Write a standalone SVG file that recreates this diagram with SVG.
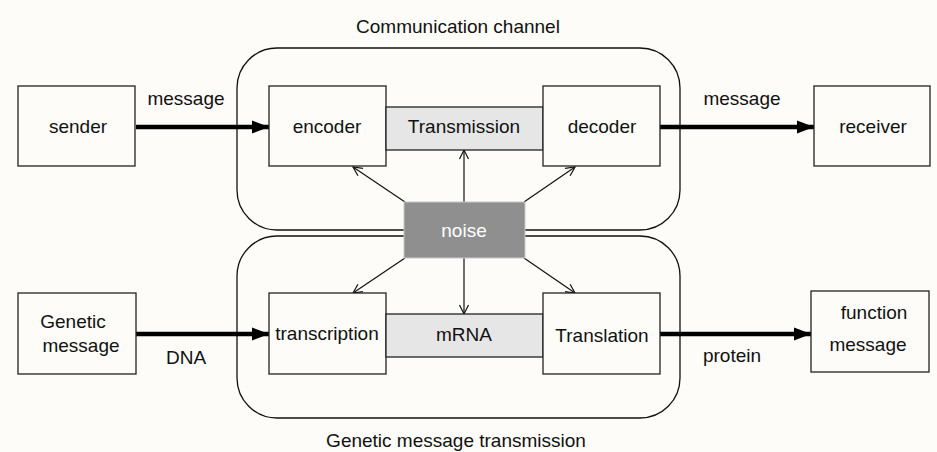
<svg xmlns="http://www.w3.org/2000/svg" width="937" height="452" viewBox="0 0 937 452">
<defs>
<style>
text{font-family:"Liberation Sans",Arial,sans-serif;font-size:19px;fill:#111;text-anchor:middle}
.box{fill:#fdfcf8;stroke:#222;stroke-width:1.3}
.chan{fill:#e6e6e6;stroke:#222;stroke-width:1.3}
.cont{fill:none;stroke:#111;stroke-width:1.3}
.thick{stroke:#000;stroke-width:4.5;fill:none}
.thin{stroke:#111;stroke-width:1.2;fill:none}
</style>
<marker id="big" markerUnits="userSpaceOnUse" markerWidth="18" markerHeight="14" refX="17" refY="7" orient="auto">
<path d="M0,0.5 L17,7 L0,13.5 Z" fill="#000"/>
</marker>
<marker id="open" markerUnits="userSpaceOnUse" markerWidth="12" markerHeight="12" refX="10" refY="6" orient="auto">
<path d="M1,1.5 L10,6 L1,10.5" fill="none" stroke="#111" stroke-width="1.2"/>
</marker>
</defs>
<rect x="0" y="0" width="937" height="452" fill="#fdfcf8"/>
<g id="containers">
<rect id="comm-channel" class="cont" x="237" y="48" width="443" height="182" rx="40" ry="40"/>
<rect id="genetic-transmission" class="cont" x="237" y="236" width="443" height="182" rx="40" ry="40"/>
<text x="458" y="33">Communication channel</text>
<text x="456" y="447">Genetic message transmission</text>
</g>
<g id="connectors">
<line class="thick" x1="136" y1="127" x2="269" y2="127" marker-end="url(#big)"/>
<line class="thick" x1="660" y1="127" x2="814" y2="127" marker-end="url(#big)"/>
<line class="thick" x1="136" y1="334" x2="269" y2="334" marker-end="url(#big)"/>
<line class="thick" x1="660" y1="334" x2="811" y2="334" marker-end="url(#big)"/>
<line class="thin" x1="405" y1="202" x2="353" y2="167" marker-end="url(#open)"/>
<line class="thin" x1="464" y1="202" x2="464" y2="150" marker-end="url(#open)"/>
<line class="thin" x1="524" y1="202" x2="575" y2="167" marker-end="url(#open)"/>
<line class="thin" x1="405" y1="258" x2="353" y2="293" marker-end="url(#open)"/>
<line class="thin" x1="464" y1="258" x2="464" y2="314" marker-end="url(#open)"/>
<line class="thin" x1="524" y1="258" x2="575" y2="293" marker-end="url(#open)"/>
<text x="186" y="105">message</text>
<text x="742" y="105">message</text>
<text x="186" y="364">DNA</text>
<text x="732" y="362">protein</text>
</g>
<g id="sender"><rect class="box" x="18" y="86" width="117" height="80"/><text x="78" y="133">sender</text></g>
<g id="encoder"><rect class="box" x="269" y="86" width="117" height="80"/><text x="327" y="133">encoder</text></g>
<g id="transmission"><rect class="chan" x="386" y="107" width="157" height="43"/><text x="464" y="133">Transmission</text></g>
<g id="decoder"><rect class="box" x="543" y="86" width="117" height="80"/><text x="602" y="133">decoder</text></g>
<g id="receiver"><rect class="box" x="814" y="86" width="116" height="80"/><text x="873" y="133">receiver</text></g>
<g id="genetic-message"><rect class="box" x="18" y="293" width="118" height="81"/><text x="73" y="328">Genetic</text><text x="81" y="352">message</text></g>
<g id="transcription"><rect class="box" x="269" y="293" width="117" height="81"/><text x="327" y="340">transcription</text></g>
<g id="mrna"><rect class="chan" x="386" y="314" width="157" height="43"/><text x="464" y="341">mRNA</text></g>
<g id="translation"><rect class="box" x="543" y="293" width="117" height="81"/><text x="602" y="342">Translation</text></g>
<g id="function-message"><rect class="box" x="811" y="291" width="118" height="81"/><text x="874" y="319">function</text><text x="868" y="351">message</text></g>
<g id="noise"><rect x="404" y="202" width="121" height="56" fill="#8f8f8f" stroke="#c8c8c8" stroke-width="1"/><text x="464" y="237" style="fill:#fff">noise</text></g>
</svg>
